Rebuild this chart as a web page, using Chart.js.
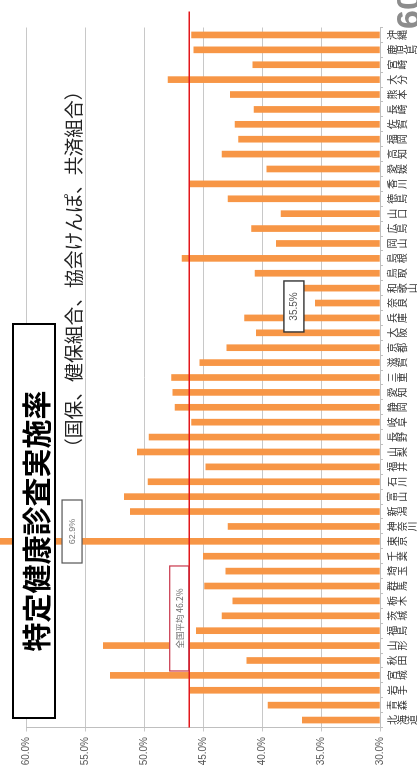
<!DOCTYPE html>
<html lang="ja">
<head>
<meta charset="utf-8">
<script src="https://cdn.jsdelivr.net/npm/chart.js@4.4.1/dist/chart.umd.min.js"></script>
<style>
  html, body { margin:0; padding:0; background:#fff; width:417px; height:783px; overflow:hidden; }
  #wrap { position:absolute; left:0; top:0; width:783px; height:417px; overflow:hidden; background:#fff;
          transform-origin:0 0; transform: translate(0px, 783px) rotate(-90deg); }
  #c { position:absolute; left:0; top:0; }
  #titleBox { position:absolute; left:64px; top:12px; width:396px; height:44px; box-sizing:border-box;
              border:2px solid #000; background:#fff; font-family:"Noto Sans CJK JP", sans-serif; font-weight:700;
              font-size:29px; line-height:40px; text-align:center; color:#000; padding-top:1px; }
  #subTitle { position:absolute; left:326px; top:62px; font-family:"Noto Sans CJK JP", sans-serif;
              font-size:18.8px; line-height:22px; color:#222; white-space:nowrap; }
  #pageNo { position:absolute; left:754px; top:388px; font-family:"Liberation Sans", sans-serif; font-weight:700;
            font-size:34px; line-height:40px; color:#8c8c8c; }
</style>
</head>
<body>
<div id="wrap">
  <canvas id="c" width="783" height="417"></canvas>
  <div id="titleBox">特定健康診査実施率</div>
  <div id="subTitle">（国保、健保組合、協会けんぽ、共済組合）</div>
  <div id="pageNo">60</div>
</div>
<script>
// ---- data ----
const prefectures = ['北海道','青森','岩手','宮城','秋田','山形','福島','茨城','栃木','群馬',
  '埼玉','千葉','東京','神奈川','新潟','富山','石川','福井','山梨','長野',
  '岐阜','静岡','愛知','三重','滋賀','京都','大阪','兵庫','奈良','和歌山',
  '鳥取','島根','岡山','広島','山口','徳島','香川','愛媛','高知','福岡',
  '佐賀','長崎','熊本','大分','宮崎','鹿児島','沖縄'];
const rates = [36.6, 39.5, 46.2, 52.9, 41.3, 53.5, 45.6, 43.4, 42.5, 44.9,
  43.1, 45.0, 62.9, 42.9, 51.2, 51.7, 49.7, 44.8, 50.6, 49.6,
  46.0, 47.4, 47.6, 47.7, 45.3, 43.0, 40.5, 41.5, 35.5, 37.3,
  40.6, 46.8, 38.8, 40.9, 38.4, 42.9, 46.2, 39.6, 43.4, 42.0,
  42.3, 40.7, 42.7, 48.0, 40.8, 45.8, 46.0];
const valueTicks = [30, 35, 40, 45, 50, 55, 60];
const nationalAverage = 46.2;
const averageLabel = '全国平均 46.2%';
const maxLabel = '62.9%';
const minLabel = '35.5%';

// ---- annotation plugin ----
function drawBox(ctx, cx, cy, w, h, text, border, lw, font, color) {
  ctx.save();
  ctx.fillStyle = '#fff';
  ctx.fillRect(cx - w/2, cy - h/2, w, h);
  ctx.strokeStyle = border; ctx.lineWidth = lw;
  ctx.strokeRect(cx - w/2, cy - h/2, w, h);
  ctx.fillStyle = color; ctx.font = font;
  ctx.textAlign = 'center'; ctx.textBaseline = 'middle';
  ctx.fillText(text, cx, cy + 0.5);
  ctx.restore();
}
const annotations = {
  id: 'annotations',
  afterDatasetsDraw(chart) {
    const { ctx, chartArea, scales: { x, y } } = chart;
    const ya = y.getPixelForValue(nationalAverage);
    ctx.save();
    ctx.strokeStyle = '#e3171b'; ctx.lineWidth = 1.6;
    ctx.beginPath(); ctx.moveTo(chartArea.left, ya); ctx.lineTo(chartArea.right + 16, ya); ctx.stroke();
    ctx.restore();
    // average box sits on the line
    const avgX = x.getPixelForValue(6.82);
    drawBox(ctx, avgX, ya - 10, 105, 19, averageLabel, '#c8364a', 1.2,
            '8.5px "Noto Sans CJK JP", sans-serif', '#6b6b6b');
    // max label near 東京
    const iMax = rates.indexOf(Math.max(...rates));
    drawBox(ctx, x.getPixelForValue(iMax + 0.66), y.getPixelForValue(56.15), 63, 20, maxLabel, '#555', 1.2,
            '9px "Liberation Sans", sans-serif', '#7a7a7a');
    // min label near 奈良
    const iMin = rates.indexOf(Math.min(...rates));
    drawBox(ctx, x.getPixelForValue(iMin - 0.23), y.getPixelForValue(37.31), 51, 20, minLabel, '#333', 1.4,
            '10px "Liberation Sans", sans-serif', '#555');
  }
};

new Chart(document.getElementById('c'), {
  type: 'bar',
  data: {
    labels: prefectures.map(p => Array.from(p)),
    datasets: [{
      data: rates,
      backgroundColor: '#F79646',
      borderWidth: 0,
      barThickness: 6,
      base: 30,
      clip: { left: 0, right: 0, top: 60, bottom: 0 }
    }]
  },
  options: {
    responsive: false,
    animation: false,
    devicePixelRatio: 1,
    layout: { padding: { top: 26.7, right: 27.5, left: 0, bottom: 0 } },
    plugins: { legend: { display: false }, tooltip: { enabled: false }, title: { display: false } },
    scales: {
      x: {
        type: 'category',
        afterFit(scale) { scale.height = 37; },
        grid: { display: true, drawOnChartArea: false, drawTicks: true, tickLength: 3, color: '#bfbfbf', offset: true },
        border: { display: true, color: '#bfbfbf', width: 1 },
        ticks: { autoSkip: false, maxRotation: 0, minRotation: 0, padding: 4, color: '#333',
                 font: { family: '"Noto Sans CJK JP", sans-serif', size: 10, lineHeight: 1.0 } }
      },
      y: {
        min: 30, max: 60,
        afterFit(scale) { scale.width = 55.5; },
        afterBuildTicks(scale) { scale.ticks = valueTicks.map(v => ({ value: v })); },
        grid: { color: '#c8c8c8', lineWidth: 1, tickLength: 4, drawTicks: true },
        border: { display: true, color: '#bfbfbf', width: 1 },
        ticks: { padding: 5.5, color: '#595959',
                 font: { family: '"Liberation Sans Narrow", "Liberation Sans", sans-serif', size: 10 },
                 callback: v => Number(v).toFixed(1) + '%' }
      }
    }
  },
  plugins: [annotations]
});
</script>
</body>
</html>
